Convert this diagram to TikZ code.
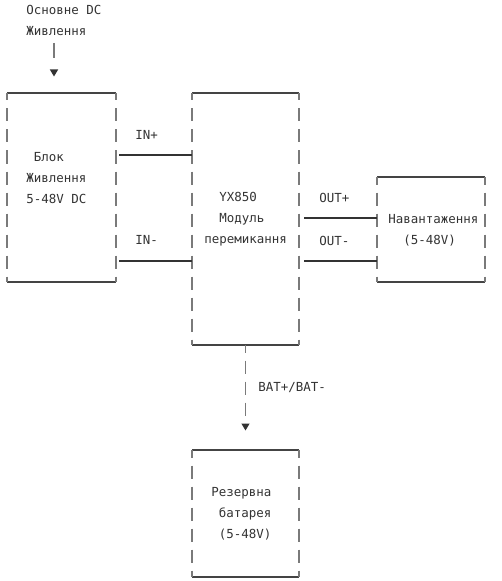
\documentclass[tikz,border=0pt]{standalone}
\usepackage{fontspec}
\newfontfamily\asciifont{DejaVu Sans Mono}
\usetikzlibrary{arrows.meta, positioning, calc}

\definecolor{ink}{HTML}{333333}
\definecolor{rulegray}{HTML}{444444}
\definecolor{dashgray}{HTML}{7A7A7A}
\newcommand{\chsp}{\hphantom{0}}

\begin{document}
\begin{tikzpicture}[
    x=0.75pt, y=-0.75pt,
    box/.style={rectangle, inner sep=0pt, outer sep=0pt},
    txt/.style={anchor=west, align=left, inner sep=0pt, text=ink, font=\asciifont\fontsize{9.35pt}{15.75pt}\selectfont},
    hrule/.style={rulegray, line width=0.8pt},
    vside/.style={dashgray, line width=0.9pt, dash pattern=on 9.75pt off 6pt, dash phase=4.125pt},
    wire/.style={ink, line width=1.5pt, shorten <=2.25pt},
    feed/.style={dashgray, line width=0.9pt, -{Triangle[length=5.25pt, width=6pt, color=ink]}}
]
\useasboundingbox (0,0) rectangle (502,581);

% Boxes
\node[box, minimum width=81.75pt, minimum height=141.75pt] (psu) at (61.5,187.5) {};
\node[box, minimum width=80.25pt, minimum height=189pt] (yx) at (245.5,219) {};
\node[box, minimum width=81pt, minimum height=78.75pt] (load) at (431,229.5) {};
\node[box, minimum width=80.25pt, minimum height=95.25pt] (bat) at (245.5,513.5) {};

% Outlines: solid top and bottom, dashed sides
\foreach \b in {psu, yx, load, bat} {
  \draw[hrule] (\b.north west) -- (\b.north east) (\b.south west) -- (\b.south east);
  \draw[vside] (\b.north west) -- (\b.south west);
  \draw[vside] (\b.north east) -- (\b.south east);
}

% Texts
\node[txt] (srcT) at (26,20.5) {Основне DC\\Живлення};
\node[txt] (psuT) at (26,178) {\chsp Блок\\Живлення\\5-48V DC};
\node[txt] (yxT) at (204,219.5) {\chsp\chsp YX850\\\chsp\chsp Модуль\\перемикання};
\node[txt] (loadT) at (388,230) {Навантаження\\\chsp\chsp(5-48V)};
\node[txt] (batT) at (211,514) {Резервна\\\chsp батарея\\\chsp(5-48V)};

% Labels
\node[txt] (inP) at (135,135) {IN+};
\node[txt] (inM) at (135,240) {IN-};
\node[txt] (outP) at (319,198) {OUT+};
\node[txt] (outM) at (319,241) {OUT-};
\node[txt] (batL) at (258,388) {BAT+/BAT-};

% Wires
\coordinate (inY) at (0,155);
\coordinate (inYm) at (0,261);
\coordinate (outY) at (0,218);
\coordinate (outYm) at (0,261);
\draw[wire] (psu.east |- inY) -- (yx.west |- inY);
\draw[wire] (psu.east |- inYm) -- (yx.west |- inYm);
\draw[wire, shorten <=3.75pt] (yx.east |- outY) -- (load.west |- outY);
\draw[wire, shorten <=3.75pt] (yx.east |- outYm) -- (load.west |- outYm);

% Feeds
\coordinate (srcA) at (54,43);
\draw[feed, dash pattern=on 11.25pt off 30pt, shorten >=12.375pt] (srcA) -- (psu.north -| srcA);
\draw[feed, dash pattern=on 9.75pt off 6pt, dash phase=4.125pt, shorten >=14.625pt] (yx.south) -- (bat.north);

\end{tikzpicture}
\end{document}
